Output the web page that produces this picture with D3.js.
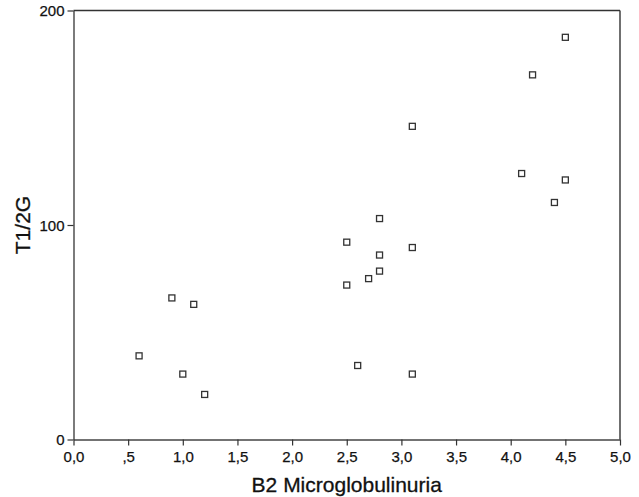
<!DOCTYPE html>
<html>
<head>
<meta charset="utf-8">
<script src="https://cdn.jsdelivr.net/npm/d3@7.9.0/dist/d3.min.js"></script>
<style>
  body { margin: 0; background: #fff; }
  svg { display: block; font-family: "Liberation Sans", Arial, sans-serif; }
</style>
</head>
<body>
<svg id="chart" width="639" height="497"></svg>
<script>
// B2 microglobulinuria vs T1/2G
const b2 = [0.6, 0.9, 1.0, 1.1, 1.2, 2.5, 2.5, 2.6, 2.7, 2.8, 2.8, 2.8, 3.1, 3.1, 3.1, 4.1, 4.2, 4.4, 4.5, 4.5];
const t12g = [39, 66, 30.5, 63, 21, 92, 72, 34.5, 75, 103, 86, 78.5, 146, 89.5, 30.5, 124, 170, 110.5, 187.5, 121];
const xTicks = [0, 0.5, 1, 1.5, 2, 2.5, 3, 3.5, 4, 4.5, 5];
const yTicks = [0, 100, 200];

const points = b2.map((v, i) => ({ x: v, y: t12g[i] }));

const margin = { top: 10.5, right: 19, bottom: 57.5, left: 73.5 };
const svg = d3.select('#chart');
const width = +svg.attr('width') - margin.left - margin.right;
const height = +svg.attr('height') - margin.top - margin.bottom;

const x = d3.scaleLinear().domain([0, 5]).range([0, width]);
const y = d3.scaleLinear().domain([0, 200]).range([height, 0]);

const g = svg.append('g').attr('transform', `translate(${margin.left},${margin.top})`);

// comma decimals like the original: 0,0 ,5 1,0 ...
const fmtX = (d) => {
  if (d === 0) return '0,0';
  const s = d.toFixed(1).replace('.', ',');
  return s.startsWith('0,') ? s.slice(1) : s;
};

const xAxis = g.append('g')
  .attr('transform', `translate(0,${height})`)
  .call(d3.axisBottom(x).tickValues(xTicks).tickFormat(fmtX).tickSize(6).tickSizeOuter(0));

const yAxis = g.append('g')
  .call(d3.axisLeft(y).tickValues(yTicks).tickFormat(d3.format('d')).tickSize(6).tickSizeOuter(0));

[xAxis, yAxis].forEach((a) => {
  a.select('.domain').attr('stroke', '#444').attr('stroke-width', 1.4);
  a.selectAll('.tick line').attr('stroke', '#333').attr('stroke-width', 1.2);
  a.selectAll('.tick text')
    .attr('fill', '#111')
    .attr('stroke', '#111')
    .attr('stroke-width', 0.25)
    .style('font-size', '15px');
});
xAxis.selectAll('.tick text').attr('dy', '0.9em');
yAxis.selectAll('.tick text').attr('dy', '0.35em').attr('x', -9);

// frame top and right
g.append('line').attr('x1', 0).attr('x2', width).attr('y1', 0).attr('y2', 0)
  .attr('stroke', '#333').attr('stroke-width', 1.4);
g.append('line').attr('x1', width).attr('x2', width).attr('y1', 0).attr('y2', height)
  .attr('stroke', '#333').attr('stroke-width', 1.4);

const s = 6;
g.selectAll('rect.pt')
  .data(points)
  .join('rect')
  .attr('class', 'pt')
  .attr('x', (d) => x(d.x) - s / 2)
  .attr('y', (d) => y(d.y) - s / 2)
  .attr('width', s)
  .attr('height', s)
  .attr('fill', '#fff')
  .attr('stroke', '#333')
  .attr('stroke-width', 1.3);

svg.append('text')
  .attr('x', margin.left + width / 2)
  .attr('y', 492)
  .attr('text-anchor', 'middle')
  .attr('fill', '#111')
  .attr('stroke', '#111')
  .attr('stroke-width', 0.3)
  .style('font-size', '21px')
  .text('B2 Microglobulinuria');

svg.append('text')
  .attr('transform', `translate(30,${margin.top + height / 2}) rotate(-90)`)
  .attr('text-anchor', 'middle')
  .attr('fill', '#111')
  .attr('stroke', '#111')
  .attr('stroke-width', 0.3)
  .style('font-size', '21px')
  .text('T1/2G');
</script>
</body>
</html>
